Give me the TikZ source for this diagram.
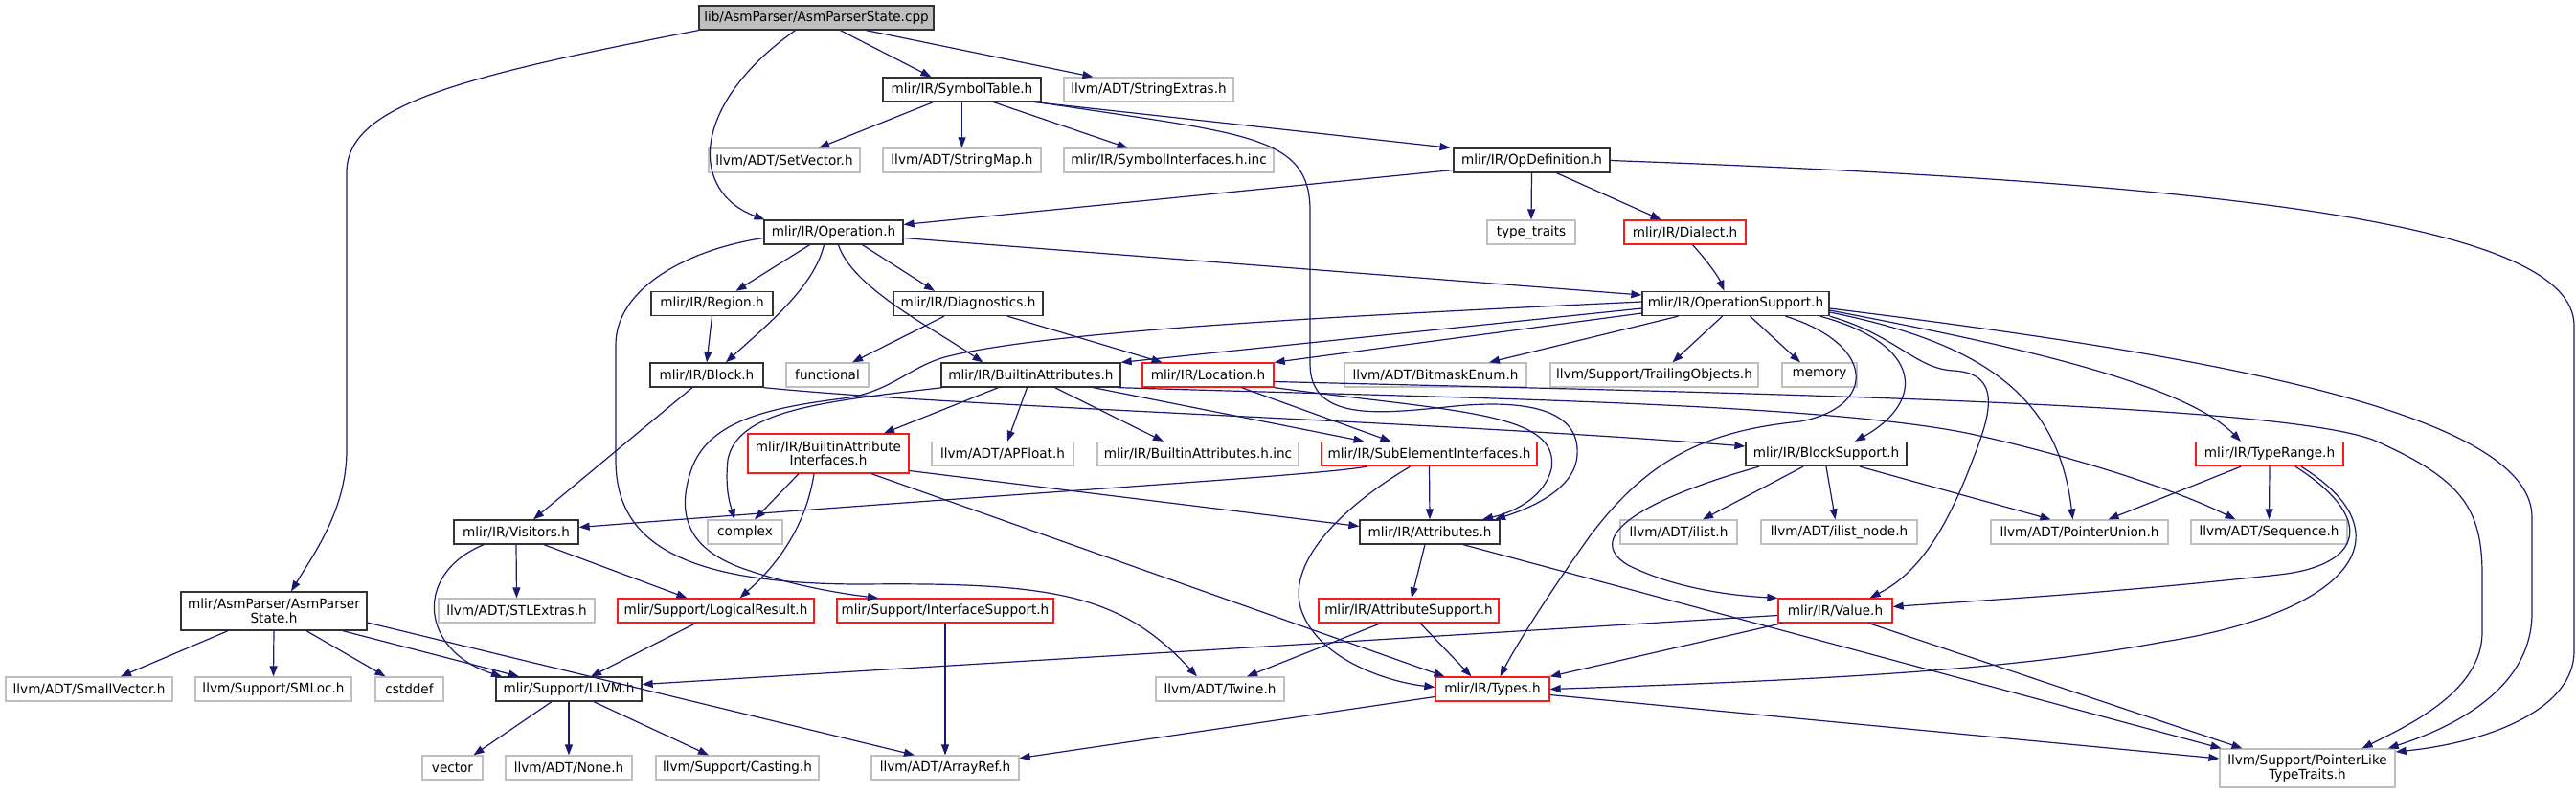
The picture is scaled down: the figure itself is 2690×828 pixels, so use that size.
\documentclass[tikz,border=0pt]{standalone}
\usepackage{fontspec}
\setmainfont{DejaVu Sans}[FakeStretch=0.97]
\usetikzlibrary{arrows.meta}
\definecolor{edgec}{HTML}{191970}
\definecolor{redc}{HTML}{FF1A1A}
\definecolor{blkc}{HTML}{333333}
\definecolor{gryc}{HTML}{BFBFBF}
\begin{document}
\begin{tikzpicture}[x=1pt,y=-1pt,
  box/.style={draw, rectangle, inner sep=0pt, minimum height=25pt, fill=white, line width=1.3pt,
    font=\fontsize{14}{14.5}\selectfont, align=center},
  blk/.style={box, draw=blkc},
  gry/.style={box, draw=gryc},
  rd/.style={box, draw=redc},
  rootbox/.style={box, draw=blkc, fill=gryc},
  edge/.style={draw=edgec, line width=1.2pt, -{Triangle[length=11pt,width=8pt]}, fill=none}
]
\useasboundingbox (0,0) rectangle (2690,828);
\fill[white] (0,0) rectangle (2690,828);

% nodes
\node[rootbox, minimum width=245pt] (root) at (852.5,18.5) {lib/AsmParser/AsmParserState.cpp};
\node[blk, minimum width=165pt] (symtab) at (1004.5,93.5) {mlir/IR/SymbolTable.h};
\node[gry, minimum width=177pt] (strext) at (1199.5,93.5) {llvm/ADT/StringExtras.h};
\node[gry, minimum width=158pt] (setvec) at (819,167.5) {llvm/ADT/SetVector.h};
\node[gry, minimum width=165pt] (strmap) at (1004.5,167.5) {llvm/ADT/StringMap.h};
\node[gry, minimum width=219pt] (syminc) at (1220.5,167.5) {mlir/IR/SymbolInterfaces.h.inc};
\node[blk, minimum width=163pt] (opdef) at (1599.5,167.5) {mlir/IR/OpDefinition.h};
\node[blk, minimum width=145pt] (operation) at (870.5,242.5) {mlir/IR/Operation.h};
\node[gry, minimum width=92pt] (typetraits) at (1599,242.5) {type\_traits};
\node[rd, minimum width=127pt] (dialect) at (1759.5,242.5) {mlir/IR/Dialect.h};
\node[blk, minimum width=127pt] (region) at (743.5,317) {mlir/IR/Region.h};
\node[blk, minimum width=156pt] (diag) at (1011,317) {mlir/IR/Diagnostics.h};
\node[blk, minimum width=195pt] (opsupport) at (1812.5,317) {mlir/IR/OperationSupport.h};
\node[blk, minimum width=118pt] (block) at (738,391.5) {mlir/IR/Block.h};
\node[gry, minimum width=86pt] (functional) at (864,391.5) {functional};
\node[blk, minimum width=187pt] (builtinattr) at (1076.5,391.5) {mlir/IR/BuiltinAttributes.h};
\node[rd, minimum width=137pt] (location) at (1261.5,391.5) {mlir/IR/Location.h};
\node[gry, minimum width=190pt] (bitmask) at (1499,391.5) {llvm/ADT/BitmaskEnum.h};
\node[gry, minimum width=217pt] (trailing) at (1727.5,391.5) {llvm/Support/TrailingObjects.h};
\node[gry, minimum width=78pt] (memory) at (1900,391.5) {memory};
\node[rd, minimum width=168pt, minimum height=41pt] (bai) at (865,473.5) {mlir/IR/BuiltinAttribute\\Interfaces.h};
\node[gry, minimum width=148pt] (apfloat) at (1047,474) {llvm/ADT/APFloat.h};
\node[gry, minimum width=210pt] (biinc) at (1251,474) {mlir/IR/BuiltinAttributes.h.inc};
\node[rd, minimum width=225pt] (sei) at (1492.5,474) {mlir/IR/SubElementInterfaces.h};
\node[blk, minimum width=168pt] (blocksupport) at (1907,474) {mlir/IR/BlockSupport.h};
\node[rd, minimum width=154pt] (typerange) at (2370,474) {mlir/IR/TypeRange.h};
\node[blk, minimum width=130pt] (visitors) at (539,555.5) {mlir/IR/Visitors.h};
\node[gry, minimum width=78pt] (complex) at (778,555.5) {complex};
\node[blk, minimum width=146pt] (attributes) at (1493,555.5) {mlir/IR/Attributes.h};
\node[gry, minimum width=122pt] (ilist) at (1753,555.5) {llvm/ADT/ilist.h};
\node[gry, minimum width=163pt] (ilistnode) at (1920.5,555.5) {llvm/ADT/ilist\_node.h};
\node[gry, minimum width=185pt] (ptrunion) at (2171.5,555.5) {llvm/ADT/PointerUnion.h};
\node[gry, minimum width=163pt] (sequence) at (2369.5,555.5) {llvm/ADT/Sequence.h};
\node[blk, minimum width=194pt, minimum height=40pt] (asmstate) at (286,638) {mlir/AsmParser/AsmParser\\State.h};
\node[gry, minimum width=163pt] (stlextras) at (539.5,637.5) {llvm/ADT/STLExtras.h};
\node[rd, minimum width=205pt] (logical) at (747.5,637.5) {mlir/Support/LogicalResult.h};
\node[rd, minimum width=226pt] (ifsupport) at (987,637.5) {mlir/Support/InterfaceSupport.h};
\node[rd, minimum width=188pt] (attrsupport) at (1471,637.5) {mlir/IR/AttributeSupport.h};
\node[rd, minimum width=119pt] (value) at (1916.5,637.5) {mlir/IR/Value.h};
\node[gry, minimum width=174pt] (smallvec) at (93,719.5) {llvm/ADT/SmallVector.h};
\node[gry, minimum width=163pt] (smloc) at (285.5,719.5) {llvm/Support/SMLoc.h};
\node[gry, minimum width=71pt] (cstddef) at (427.5,719.5) {cstddef};
\node[blk, minimum width=152pt] (llvmh) at (594,719.5) {mlir/Support/LLVM.h};
\node[gry, minimum width=134pt] (twine) at (1274,719.5) {llvm/ADT/Twine.h};
\node[rd, minimum width=119pt] (types) at (1558.5,719.5) {mlir/IR/Types.h};
\node[gry, minimum width=63pt] (vector) at (472.5,801.5) {vector};
\node[gry, minimum width=132pt] (none) at (594,801.5) {llvm/ADT/None.h};
\node[gry, minimum width=170pt] (casting) at (770,801.5) {llvm/Support/Casting.h};
\node[gry, minimum width=154pt] (arrayref) at (987,801.5) {llvm/ADT/ArrayRef.h};
\node[gry, minimum width=183pt, minimum height=40pt] (pltt) at (2409.5,802) {llvm/Support/PointerLike\\TypeTraits.h};

% edges: root
\draw[edge] (root.south west) .. controls (480,80) and (362,110) .. (362,180) -- (362,470) .. controls (362,530) and (330,575) .. ([xshift=18]asmstate.north);
\draw[edge] ([xshift=-22]root.south) .. controls (720,110) and (720,200) .. ([xshift=-72]operation.north);
\draw[edge] ([xshift=25]root.south) -- ([xshift=-32]symtab.north);
\draw[edge] ([xshift=52]root.south) -- ([xshift=-58]strext.north);
% symtab
\draw[edge] ([xshift=-30]symtab.south) -- ([xshift=36]setvec.north);
\draw[edge] (symtab.south) -- (strmap.north);
\draw[edge] ([xshift=33]symtab.south) -- ([xshift=-43]syminc.north);
\draw[edge] ([xshift=76]symtab.south) -- ([xshift=-85]opdef.north);
\draw[edge] ([xshift=79]symtab.south) .. controls (1300,140) and (1368,140) .. (1368,220) -- (1368,380) .. controls (1368,440) and (1440,432) .. (1510,425) .. controls (1600,415) and (1650,430) .. (1647,475) .. controls (1645,510) and (1600,530) .. ([xshift=68]attributes.north);
% opdef
\draw[edge] ([yshift=-10]opdef.west) -- ([yshift=8]operation.east);
\draw[edge] (opdef.south) -- (typetraits.north);
\draw[edge] ([xshift=26]opdef.south) -- ([xshift=-25]dialect.north);
\draw[edge] (opdef.east) .. controls (2300,190) and (2688,230) .. (2688,340) -- (2688,680) .. controls (2688,740) and (2600,775) .. ([yshift=17]pltt.east);
% dialect
\draw[edge] ([xshift=8]dialect.south) .. controls (1785,275) and (1795,290) .. ([xshift=-12]opsupport.north);
% operation
\draw[edge] ([xshift=-25]operation.south) -- ([xshift=25]region.north);
\draw[edge] ([xshift=-10]operation.south) .. controls (850,300) and (800,340) .. ([xshift=20]block.north);
\draw[edge] ([xshift=30]operation.south) -- ([xshift=-35]diag.north);
\draw[edge] ([xshift=5]operation.south) .. controls (890,300) and (970,340) .. ([xshift=-50]builtinattr.north);
\draw[edge] ([yshift=-6]operation.east) -- ([yshift=9]opsupport.west);
\draw[edge] ([yshift=-6]operation.west) .. controls (720,260) and (643,300) .. (643,360) -- (643,480) .. controls (643,560) and (700,610) .. (900,610) .. controls (1100,608) and (1170,620) .. ([xshift=-24]twine.north);
% region, block, diag
\draw[edge] (region.south) -- (block.north);
\draw[edge] ([xshift=-15]block.south) -- ([xshift=18]visitors.north);
\draw[edge] (block.south east) .. controls (1000,425) and (1500,440) .. ([yshift=8]blocksupport.west);
\draw[edge] ([xshift=-25]diag.south) -- ([xshift=26]functional.north);
\draw[edge] ([xshift=41]diag.south) -- ([xshift=-48]location.north);
% opsupport
\draw[edge] ([yshift=-5]opsupport.west) -- (builtinattr.north east);
\draw[edge] ([yshift=-10]opsupport.west) -- (location.north east);
\draw[edge] ([xshift=-60]opsupport.south) -- ([xshift=56]bitmask.north);
\draw[edge] ([xshift=-14]opsupport.south) -- ([xshift=19]trailing.north);
\draw[edge] ([xshift=15]opsupport.south) -- ([xshift=-20]memory.north);
\draw[edge] ([yshift=2]opsupport.west) .. controls (1400,330) and (1100,345) .. (990,372) .. controls (950,382) and (930,410) .. (880,416) .. controls (800,426) and (740,440) .. (722,490) .. controls (705,540) and (720,575) .. (780,595) .. controls (830,612) and (880,620) .. ([xshift=-70]ifsupport.north);
\draw[edge] ([xshift=-10]opsupport.south east) .. controls (2010,360) and (2010,420) .. ([xshift=30]blocksupport.north);
\draw[edge] (opsupport.south east) .. controls (1980,350) and (2000,385) .. (2040,387) .. controls (2090,390) and (2080,430) .. (2060,480) .. controls (2030,560) and (2000,600) .. ([xshift=36]value.north);
\draw[edge] ([yshift=-9]opsupport.east) .. controls (2080,360) and (2150,420) .. ([xshift=-7]ptrunion.north);
\draw[edge] ([yshift=-7]opsupport.east) .. controls (2100,360) and (2280,400) .. ([xshift=-30]typerange.north);
\draw[edge] ([yshift=-5]opsupport.east) .. controls (2300,370) and (2644,430) .. (2644,540) -- (2644,640) .. controls (2644,720) and (2560,760) .. ([xshift=-8]pltt.north east);
\draw[edge] ([xshift=52]opsupport.south) .. controls (1960,360) and (1960,425) .. (1880,440) .. controls (1780,450) and (1720,480) .. (1660,560) .. controls (1610,630) and (1580,680) .. ([xshift=8]types.north);
% builtinattr
\draw[edge] ([xshift=-34]builtinattr.south) -- ([xshift=58]bai.north);
\draw[edge] ([xshift=-4]builtinattr.south) -- ([xshift=5]apfloat.north);
\draw[edge] ([xshift=25]builtinattr.south) -- ([xshift=-36]biinc.north);
\draw[edge] ([xshift=65]builtinattr.south) -- ([xshift=-68]sei.north);
\draw[edge] ([xshift=2]builtinattr.south west) .. controls (850,420) and (770,430) .. (760,480) .. controls (757,510) and (762,525) .. ([xshift=-11]complex.north);
\draw[edge] ([xshift=-3]builtinattr.south east) .. controls (1500,415) and (1900,420) .. (2058,453) .. controls (2180,480) and (2280,515) .. ([xshift=-35]sequence.north);
% location
\draw[edge] (location.south east) .. controls (1520,430) and (1630,430) .. (1620,490) .. controls (1612,520) and (1580,535) .. ([xshift=55]attributes.north);
\draw[edge] ([xshift=35]location.south) -- ([xshift=-40]sei.north);
\draw[edge] ([yshift=-7]location.east) .. controls (1800,410) and (2380,420) .. (2480,460) .. controls (2570,500) and (2592,530) .. (2592,600) -- (2592,660) .. controls (2592,720) and (2520,755) .. ([xshift=57]pltt.north);
% bai
\draw[edge] ([xshift=-31]bai.south) -- ([xshift=10]complex.north);
\draw[edge] ([xshift=-15]bai.south) .. controls (840,560) and (800,600) .. ([xshift=25]logical.north);
\draw[edge] ([yshift=-18]bai.east) -- ([yshift=6]attributes.west);
\draw[edge] ([xshift=45]bai.south) -- ([xshift=-50]types.north);
% sei
\draw[edge] ([xshift=-65]sei.south) .. controls (1370,497) and (1100,512) .. ([yshift=5]visitors.east);
\draw[edge] (sei.south) -- (attributes.north);
\draw[edge] ([xshift=-20]sei.south) .. controls (1400,530) and (1340,590) .. (1360,640) .. controls (1380,690) and (1450,712) .. ([yshift=2]types.west);
% attributes, attrsupport
\draw[edge] ([xshift=-5]attributes.south) -- ([xshift=3]attrsupport.north);
\draw[edge] ([xshift=35]attributes.south) -- ([xshift=-90]pltt.north);
\draw[edge] ([xshift=-29]attrsupport.south) -- ([xshift=28]twine.north);
\draw[edge] ([xshift=12]attrsupport.south) -- ([xshift=-22]types.north);
% types, value
\draw[edge] ([yshift=-8]types.west) -- ([yshift=10]arrayref.east);
\draw[edge] ([yshift=-6]types.east) -- ([yshift=10]pltt.west);
\draw[edge] ([xshift=5]value.south west) -- (types.north east);
\draw[edge] ([yshift=-5]value.west) -- ([yshift=5]llvmh.east);
\draw[edge] ([xshift=35]value.south) -- ([xshift=-68]pltt.north);
% typerange
\draw[edge] ([xshift=-30]typerange.south) -- ([xshift=30]ptrunion.north);
\draw[edge] (typerange.south) -- (sequence.north);
\draw[edge] ([xshift=27]typerange.south) .. controls (2480,540) and (2470,590) .. (2380,600) .. controls (2200,620) and (2050,628) .. ([yshift=4]value.east);
\draw[edge] ([xshift=33]typerange.south) .. controls (2520,560) and (2450,640) .. (2260,670) .. controls (2100,700) and (1900,710) .. (types.east);
% blocksupport
\draw[edge] ([xshift=-24]blocksupport.south) -- ([xshift=25]ilist.north);
\draw[edge] (blocksupport.south) -- ([xshift=-4]ilistnode.north);
\draw[edge] ([xshift=35]blocksupport.south) -- ([xshift=-30]ptrunion.north);
\draw[edge] ([xshift=-70]blocksupport.south) .. controls (1720,520) and (1650,560) .. (1700,590) .. controls (1750,615) and (1810,622) .. (value.north west);
% visitors, logical
\draw[edge] (visitors.south) -- (stlextras.north);
\draw[edge] ([xshift=29]visitors.south) -- ([xshift=-30]logical.north);
\draw[edge] ([xshift=-34]visitors.south) .. controls (430,600) and (440,680) .. ([xshift=-70]llvmh.north);
\draw[edge] ([xshift=-21]logical.south) -- ([xshift=23]llvmh.north);
% asmstate
\draw[edge] ([xshift=-48]asmstate.south) -- ([xshift=33]smallvec.north);
\draw[edge] (asmstate.south) -- (smloc.north);
\draw[edge] ([xshift=34]asmstate.south) -- ([xshift=-25]cstddef.north);
\draw[edge] ([xshift=72]asmstate.south) -- ([xshift=-52]llvmh.north);
\draw[edge] ([yshift=-12]asmstate.east) -- ([xshift=-32]arrayref.north);
% ifsupport, llvm
\draw[edge] (ifsupport.south) -- (arrayref.north);
\draw[edge] ([xshift=-18]llvmh.south) -- ([xshift=22]vector.north);
\draw[edge] (llvmh.south) -- (none.north);
\draw[edge] ([xshift=26]llvmh.south) -- ([xshift=-30]casting.north);
\end{tikzpicture}
\end{document}
